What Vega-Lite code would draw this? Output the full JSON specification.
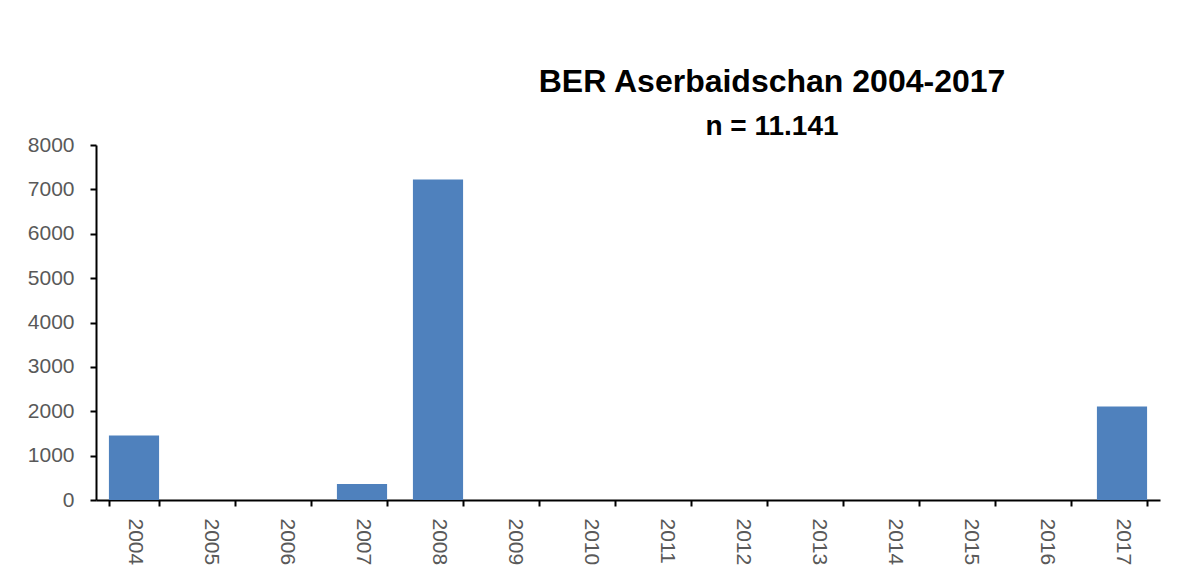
{
  "$schema": "https://vega.github.io/schema/vega-lite/v6.json",
  "autosize": {"type": "none"},
  "width": 1064,
  "height": 355,
  "padding": {"left": 96, "top": 145, "right": 23, "bottom": 78},
  "background": "white",
  "config": {"view": {"stroke": null}, "font": "Liberation Sans"},
  "title": {
    "text": "BER Aserbaidschan 2004-2017",
    "subtitle": "n = 11.141",
    "anchor": "middle",
    "dx": 144,
    "offset": -8,
    "font": "Liberation Sans",
    "fontSize": 32,
    "fontWeight": "bold",
    "color": "#000000",
    "subtitleFont": "Liberation Sans",
    "subtitleFontSize": 28,
    "subtitleFontWeight": "bold",
    "subtitleColor": "#000000",
    "subtitlePadding": 14
  },
  "data": {
    "values": [
      {"year": "2004", "value": 1455},
      {"year": "2005", "value": 0},
      {"year": "2006", "value": 0},
      {"year": "2007", "value": 360},
      {"year": "2008", "value": 7220},
      {"year": "2009", "value": 0},
      {"year": "2010", "value": 0},
      {"year": "2011", "value": 0},
      {"year": "2012", "value": 0},
      {"year": "2013", "value": 0},
      {"year": "2014", "value": 0},
      {"year": "2015", "value": 0},
      {"year": "2016", "value": 0},
      {"year": "2017", "value": 2106}
    ]
  },
  "mark": {"type": "bar", "color": "#4F81BD"},
  "encoding": {
    "x": {
      "field": "year",
      "type": "ordinal",
      "scale": {"paddingInner": 0.34, "paddingOuter": 0.17},
      "axis": {
        "title": null,
        "labelAngle": 90,
        "labelAlign": "left",
        "labelBaseline": "middle",
        "labelFontSize": 21,
        "labelColor": "#595959",
        "labelPadding": 12,
        "tickBand": "extent",
        "tickSize": 6,
        "tickColor": "#000000",
        "tickWidth": 2,
        "domainColor": "#000000",
        "domainWidth": 2
      }
    },
    "y": {
      "field": "value",
      "type": "quantitative",
      "scale": {"domain": [0, 8000], "nice": false},
      "axis": {
        "title": null,
        "format": "d",
        "values": [0, 1000, 2000, 3000, 4000, 5000, 6000, 7000, 8000],
        "grid": false,
        "labelFontSize": 21,
        "labelColor": "#595959",
        "labelPadding": 16,
        "tickSize": 6,
        "tickColor": "#000000",
        "tickWidth": 2,
        "domainColor": "#000000",
        "domainWidth": 2
      }
    }
  }
}
